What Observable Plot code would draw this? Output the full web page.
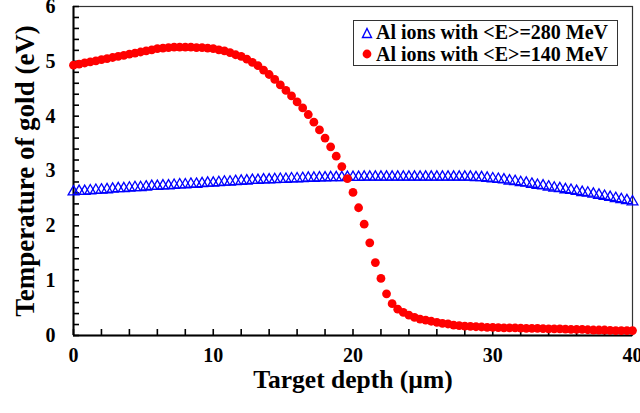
<!DOCTYPE html>
<html><head><meta charset="utf-8">
<script src="https://cdn.jsdelivr.net/npm/d3@7"></script>
<script src="https://cdn.jsdelivr.net/npm/@observablehq/plot@0.6"></script>
<style>
body{margin:0;background:#fff}
#wrap{position:relative;width:640px;height:413px}
.legend{position:absolute;left:353px;top:20px;width:265px;height:46px;border:1.5px solid #333;background:#fff;
font-family:"Liberation Serif",serif;font-weight:bold;font-size:20px;color:#000;box-sizing:border-box;padding:1px 0 0 7px;line-height:21.5px}
.legend div{display:flex;align-items:center;white-space:nowrap}
.legend svg{margin-right:3px}
</style></head>
<body><div id="wrap"></div>
<script>
const depth = [0,0.4,0.8,1.2,1.6,2,2.4,2.8,3.2,3.6,4,4.4,4.8,5.2,5.6,6,6.4,6.8,7.2,7.6,8,8.4,8.8,9.2,9.6,10,10.4,10.8,11.2,11.6,12,12.4,12.8,13.2,13.6,14,14.4,14.8,15.2,15.6,16,16.4,16.8,17.2,17.6,18,18.4,18.8,19.2,19.6,20,20.4,20.8,21.2,21.6,22,22.4,22.8,23.2,23.6,24,24.4,24.8,25.2,25.6,26,26.4,26.8,27.2,27.6,28,28.4,28.8,29.2,29.6,30,30.4,30.8,31.2,31.6,32,32.4,32.8,33.2,33.6,34,34.4,34.8,35.2,35.6,36,36.4,36.8,37.2,37.6,38,38.4,38.8,39.2,39.6,40];
const temp280 = [
2.62,2.63,2.63,2.64,2.65,2.655,2.66,2.67,2.68,2.68,
2.69,2.70,2.70,2.71,2.72,2.72,2.73,2.73,2.74,2.75,
2.75,2.76,2.76,2.77,2.78,2.78,2.79,2.80,2.80,2.81,
2.815,2.82,2.83,2.83,2.84,2.84,2.845,2.85,2.85,2.86,
2.86,2.865,2.87,2.87,2.875,2.875,2.88,2.88,2.88,2.885,
2.885,2.885,2.89,2.89,2.89,2.89,2.89,2.89,2.89,2.89,
2.89,2.89,2.89,2.89,2.89,2.89,2.89,2.89,2.89,2.89,
2.89,2.89,2.88,2.88,2.87,2.86,2.85,2.84,2.82,2.81,
2.79,2.78,2.76,2.74,2.73,2.71,2.69,2.68,2.66,2.65,
2.63,2.61,2.60,2.58,2.56,2.54,2.52,2.50,2.48,2.46,
2.44];
const temp140 = [
4.93,4.95,4.97,4.99,5.01,5.03,5.05,5.07,5.09,5.11,
5.13,5.15,5.17,5.19,5.21,5.23,5.24,5.25,5.26,5.26,
5.26,5.26,5.25,5.25,5.24,5.23,5.21,5.19,5.16,5.12,
5.09,5.04,4.98,4.92,4.84,4.76,4.67,4.57,4.47,4.37,
4.26,4.15,4.03,3.89,3.75,3.60,3.44,3.27,3.08,2.86,
2.61,2.33,2.03,1.69,1.33,1.04,0.76,0.58,0.48,0.42,
0.37,0.33,0.30,0.28,0.26,0.24,0.22,0.21,0.19,0.18,
0.17,0.165,0.16,0.155,0.15,0.15,0.145,0.14,0.14,0.14,
0.135,0.13,0.13,0.13,0.125,0.12,0.12,0.12,0.115,0.11,
0.11,0.11,0.105,0.10,0.10,0.10,0.095,0.09,0.09,0.09,
0.09];
const seriesNames = ["Al ions with <E>=280 MeV","Al ions with <E>=140 MeV"];
const xTicks = [0,10,20,30,40];
const xMinor = [0,2,4,6,8,10,12,14,16,18,20,22,24,26,28,30,32,34,36,38,40];
const yTicks = [0,1,2,3,4,5,6];
const yMinor = [0,0.2,0.4,0.6,0.8,1,1.2,1.4,1.6,1.8,2,2.2,2.4,2.6,2.8,3,3.2,3.4,3.6,3.8,4,4.2,4.4,4.6,4.8,5,5.2,5.4,5.6,5.8,6];
const xTitle = "Target depth (µm)";
const yTitle = "Temperature of gold (eV)";

const d280 = depth.map((d,i)=>({depth:d,temp:temp280[i]}));
const d140 = depth.map((d,i)=>({depth:d,temp:temp140[i]}));

const W = 640, H = 413, mL = 73, mR = 8, mT = 6, mB = 78, tick = 6;
const fw = W - mL - mR, fh = H - mT - mB;

const chart = Plot.plot({
  width:W, height:H,
  marginLeft:mL, marginRight:mR, marginTop:mT, marginBottom:mB,
  style:{fontFamily:"'Liberation Serif', serif", fontWeight:"bold", fontSize:"20px", color:"#000", background:"#fff", overflow:"visible"},
  x:{domain:[0,40]},
  y:{domain:[0,6]},
  marks:[
    Plot.frame({stroke:"#333", strokeWidth:1.2}),
    Plot.ruleX(xMinor, {x:d=>d, insetTop:fh - tick, stroke:"#000", strokeWidth:1.6}),
    Plot.ruleY(yMinor, {y:d=>d, insetRight:fw - tick, stroke:"#000", strokeWidth:1.6}),
    Plot.axisX({anchor:"bottom", ticks:xTicks, tickSize:0, tickPadding:12, label:null, fontSize:20, fontWeight:"bold", tickFormat:"d"}),
    Plot.axisY({anchor:"left", ticks:yTicks, tickSize:0, tickPadding:18, label:null, fontSize:20, fontWeight:"bold", tickFormat:"d"}),
    Plot.ruleX([0], {strokeWidth:2}),
    Plot.ruleY([0], {strokeWidth:2}),
    Plot.dot(d280, {x:"depth", y:"temp", symbol:"triangle", stroke:"#0000ff", fill:"none", r:4, strokeWidth:1.3}),
    Plot.dot(d140, {x:"depth", y:"temp", fill:"#ff0000", r:4.4}),
    Plot.text([xTitle], {frameAnchor:"bottom", dy:52, fontSize:25.5, fontWeight:"bold", textAnchor:"middle"}),
    Plot.text([yTitle], {frameAnchor:"left", dx:-48, rotate:-90, fontSize:27, fontWeight:"bold", textAnchor:"middle"})
  ]
});
const wrap = document.getElementById("wrap");
wrap.appendChild(chart);
const leg = document.createElement("div");
leg.className = "legend";
leg.innerHTML =
 `<div><svg width="12" height="12"><path d="M6,1.5 L10.5,10.5 L1.5,10.5 Z" fill="none" stroke="#0000ff" stroke-width="1.4"/></svg><span></span></div>`+
 `<div><svg width="12" height="12"><circle cx="6" cy="6" r="4.4" fill="#ff0000"/></svg><span></span></div>`;
leg.querySelectorAll("span").forEach((s,i)=>s.textContent=seriesNames[i]);
wrap.appendChild(leg);
</script>
</body></html>
